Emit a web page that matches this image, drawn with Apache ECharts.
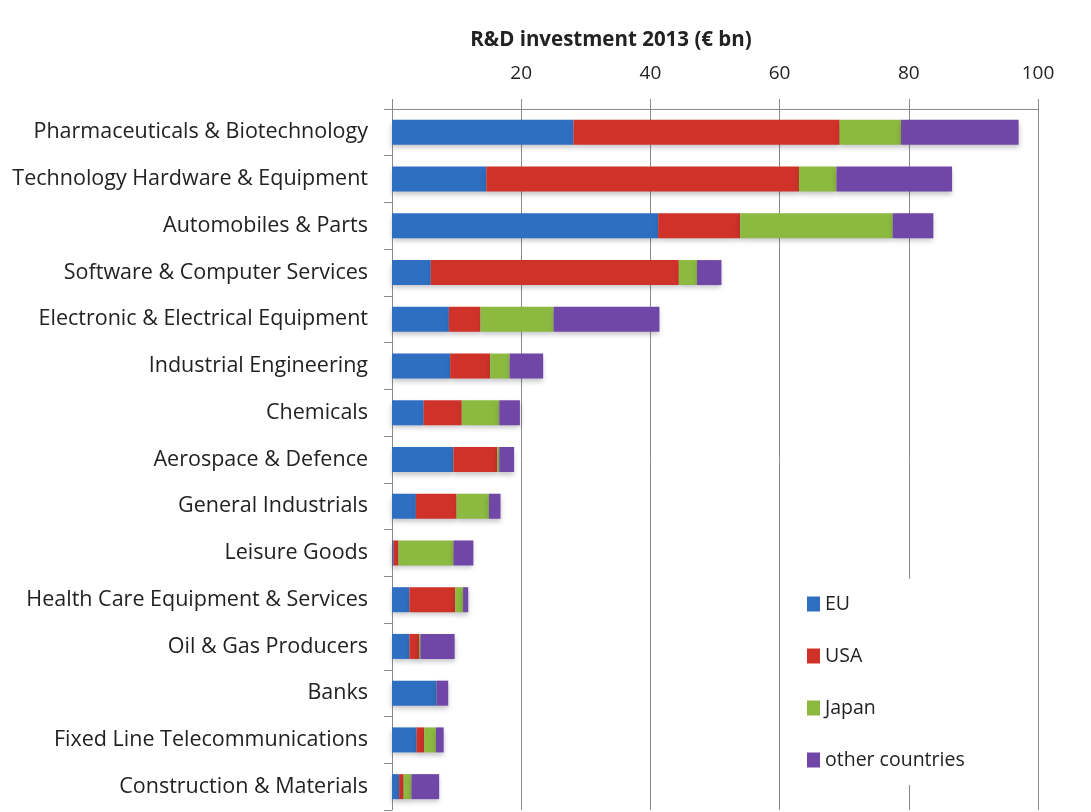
<!DOCTYPE html>
<html>
<head>
<meta charset="utf-8">
<title>R&amp;D investment 2013 by sector</title>
<script src="https://cdn.jsdelivr.net/npm/echarts@6/dist/echarts.min.js"></script>
<style>
  html, body { margin: 0; padding: 0; background: #ffffff; }
  #chart { width: 1091px; height: 812px; }
</style>
</head>
<body>
<div id="chart"></div>
<script>
// Industrial sectors, largest R&D spender first
const sectors = [
  'Pharmaceuticals & Biotechnology',
  'Technology Hardware & Equipment',
  'Automobiles & Parts',
  'Software & Computer Services',
  'Electronic & Electrical Equipment',
  'Industrial Engineering',
  'Chemicals',
  'Aerospace & Defence',
  'General Industrials',
  'Leisure Goods',
  'Health Care Equipment & Services',
  'Oil & Gas Producers',
  'Banks',
  'Fixed Line Telecommunications',
  'Construction & Materials'
];

// R&D investment 2013, € bn, by region of the investing company
const euValues    = [28.1, 14.6, 41.2,  6.0,  8.8, 9.0, 4.9, 9.5, 3.7, 0.2, 2.7, 2.7, 6.9, 3.8, 1.1];
const usaValues   = [41.2, 48.4, 12.7, 38.4,  4.9, 6.2, 5.9, 6.8, 6.3, 0.8, 7.1, 1.5, 0.0, 1.2, 0.7];
const japanValues = [ 9.5,  5.8, 23.6,  2.8, 11.3, 3.0, 5.8, 0.3, 5.0, 8.5, 1.2, 0.2, 0.0, 1.8, 1.2];
const otherValues = [18.2, 17.9,  6.3,  3.8, 16.4, 5.2, 3.2, 2.3, 1.8, 3.1, 0.8, 5.3, 1.8, 1.2, 4.3];

const xTicks = [0, 20, 40, 60, 80, 100];

const regionNames  = ['EU', 'USA', 'Japan', 'other countries'];
const regionColors = ['#2f6fc1', '#cf3229', '#8cb93f', '#7046a6'];
const regionValues = [euValues, usaValues, japanValues, otherValues];

const FONT = '"Open Sans", "Noto Sans", sans-serif';

const chart = echarts.init(document.getElementById('chart'), null, { renderer: 'canvas' });

const series = regionNames.map((name, i) => ({
  name: name,
  type: 'bar',
  stack: 'total',
  barWidth: 25,
  data: regionValues[i],
  itemStyle: {
    color: regionColors[i],
    shadowColor: 'rgba(40, 40, 60, 0.28)',
    shadowBlur: 5,
    shadowOffsetY: 3
  },
  emphasis: { disabled: true }
}));

chart.setOption({
  animation: false,
  backgroundColor: '#ffffff',
  title: {
    text: 'R&D investment 2013 (€ bn)',
    left: 606,
    top: 25,
    textAlign: 'center',
    textStyle: { fontFamily: FONT, fontSize: 20.5, fontWeight: 'bold', color: '#222222' }
  },
  legend: {
    orient: 'vertical',
    left: 795,
    top: 579,
    data: regionNames,
    icon: 'rect',
    itemWidth: 13,
    itemHeight: 15,
    itemGap: 32,
    padding: [15, 60, 15, 12],
    backgroundColor: '#ffffff',
    textStyle: { fontFamily: FONT, fontSize: 19.5, color: '#222222' },
    selectedMode: false
  },
  grid: { left: 392, right: 53, top: 109, bottom: 2, containLabel: false },
  xAxis: {
    type: 'value',
    position: 'top',
    min: xTicks[0],
    max: xTicks[xTicks.length - 1],
    interval: 20,
    axisLine: { show: true, lineStyle: { color: '#8a8a8a', width: 1 } },
    axisTick: { show: true, inside: false, length: 10, lineStyle: { color: '#8a8a8a' } },
    splitLine: { show: true, lineStyle: { color: '#8a8a8a', width: 1 } },
    axisLabel: {
      margin: 26,
      fontFamily: FONT,
      fontSize: 19,
      color: '#222222',
      formatter: v => (v === 0 ? '' : String(v))
    }
  },
  yAxis: {
    type: 'category',
    inverse: true,
    data: sectors,
    axisLine: { show: true, lineStyle: { color: '#8a8a8a', width: 1 } },
    axisTick: { show: true, inside: false, length: 8, alignWithLabel: false, lineStyle: { color: '#8a8a8a' } },
    axisLabel: { margin: 24, fontFamily: FONT, fontSize: 21.5, color: '#222222' }
  },
  series: series
});
</script>
</body>
</html>
